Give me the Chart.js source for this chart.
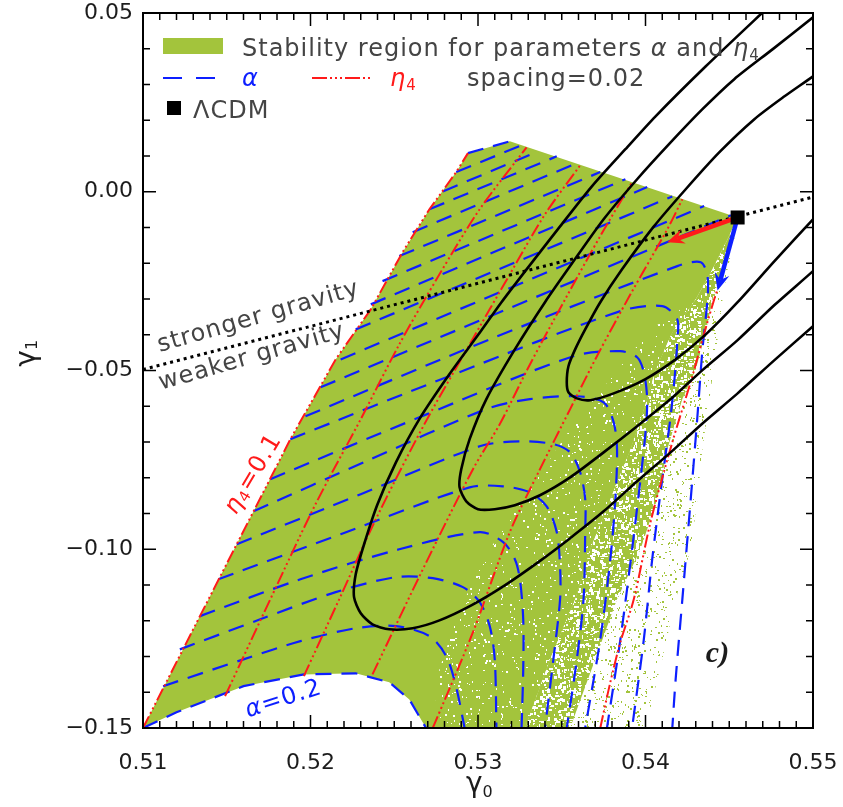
<!DOCTYPE html>
<html lang="en">
<head>
<meta charset="utf-8">
<title>Stability region in the gamma0-gamma1 plane</title>
<script src="https://cdn.jsdelivr.net/npm/chart.js@4.4.1/dist/chart.umd.min.js"></script>
<style>
  html, body { margin: 0; padding: 0; background: #ffffff; }
  #chartBox { width: 843px; height: 807px; }
</style>
</head>
<body>
<div id="chartBox"><canvas id="gammaPlane" width="843" height="807"></canvas></div>
<script>
// Tick labels
var xTicks = [0.51, 0.52, 0.53, 0.54, 0.55];
var yTicks = [-0.15, -0.10, -0.05, 0.00, 0.05];

// LCDM and the directions in which eta4 and alpha grow
var lcdm = [0.5455, -0.0072];
var etaArrowTip = [0.5413, -0.0141];
var alphaArrowTip = [0.5443, -0.0276];

// Divide between stronger and weaker gravity
var gravityDivide = [[0.5100, -0.0497], [0.5500, -0.0015]];

// Left edge of the stability region (the eta4 = 0.1 contour)
var eta01 = [[0.5100,-0.1500],[0.5134,-0.1187],[0.5166,-0.0894],[0.5188,-0.0692],[0.5215,-0.0469],[0.5236,-0.0329],[0.5255,-0.0169],[0.5271,-0.0049],[0.5287,0.0055],[0.5294,0.0108]];
// Top edge, ending at LCDM
var topEdge = [[0.5319,0.0141],[0.5455,-0.0072]];
// Lower edge (the alpha = 0.2 contour)
var alpha02 = [[0.5100,-0.1500],[0.5120,-0.1456],[0.5160,-0.1383],[0.5196,-0.1350],[0.5227,-0.1347],[0.5247,-0.1372],[0.5259,-0.1420],[0.5269,-0.1500]];
// Right-hand edges from LCDM down to the axis: solid, lightly dotted, speckled, sparse points
var edgeSolid = [[0.5455,-0.0072],[0.5449,-0.0133],[0.5440,-0.0217],[0.5430,-0.0301],[0.5416,-0.0393],[0.5406,-0.0497],[0.5401,-0.0580],[0.5391,-0.0720],[0.5379,-0.0860],[0.5367,-0.1000],[0.5358,-0.1140],[0.5343,-0.1308],[0.5328,-0.1500]];
var edgeFaint = [[0.5430,-0.0301],[0.5403,-0.0385],[0.5379,-0.0524],[0.5355,-0.0664],[0.5331,-0.0832],[0.5307,-0.1000],[0.5289,-0.1168],[0.5277,-0.1336],[0.5273,-0.1500]];
var edgeSpeckled = [[0.5455,-0.0072],[0.5452,-0.0133],[0.5446,-0.0217],[0.5440,-0.0301],[0.5436,-0.0393],[0.5430,-0.0497],[0.5422,-0.0580],[0.5413,-0.0720],[0.5407,-0.0860],[0.5397,-0.1000],[0.5383,-0.1140],[0.5370,-0.1308],[0.5355,-0.1500]];
var edgeSparse = [[0.5455,-0.0072],[0.5453,-0.0133],[0.5449,-0.0217],[0.5446,-0.0301],[0.5443,-0.0413],[0.5439,-0.0552],[0.5434,-0.0720],[0.5431,-0.0860],[0.5427,-0.1000],[0.5418,-0.1140],[0.5410,-0.1308],[0.5400,-0.1500]];

// alpha contours, spacing 0.02, from alpha = 0.2 upwards
var alphaContours = [
  alpha02,
  [[0.5112,-0.1383],[0.5160,-0.1308],[0.5194,-0.1257],[0.5227,-0.1221],[0.5251,-0.1215],[0.5271,-0.1243],[0.5281,-0.1299],[0.5287,-0.1386],[0.5292,-0.1500]],
  [[0.5122,-0.1280],[0.5170,-0.1196],[0.5215,-0.1120],[0.5251,-0.1078],[0.5273,-0.1081],[0.5291,-0.1106],[0.5301,-0.1148],[0.5307,-0.1215],[0.5310,-0.1308],[0.5311,-0.1500]],
  [[0.5134,-0.1187],[0.5194,-0.1084],[0.5253,-0.1000],[0.5301,-0.0952],[0.5315,-0.0980],[0.5322,-0.1028],[0.5325,-0.1084],[0.5327,-0.1196],[0.5327,-0.1336],[0.5326,-0.1500]],
  [[0.5145,-0.1084],[0.5218,-0.0958],[0.5295,-0.0827],[0.5315,-0.0824],[0.5331,-0.0841],[0.5341,-0.0880],[0.5347,-0.0952],[0.5349,-0.1048],[0.5349,-0.1140],[0.5345,-0.1308],[0.5340,-0.1500]],
  [[0.5156,-0.0986],[0.5230,-0.0846],[0.5301,-0.0712],[0.5325,-0.0698],[0.5345,-0.0706],[0.5355,-0.0729],[0.5361,-0.0785],[0.5364,-0.0860],[0.5364,-0.0952],[0.5363,-0.1140],[0.5359,-0.1308],[0.5353,-0.1500]],
  [[0.5166,-0.0894],[0.5236,-0.0748],[0.5305,-0.0608],[0.5331,-0.0580],[0.5359,-0.0572],[0.5375,-0.0589],[0.5381,-0.0645],[0.5383,-0.0720],[0.5382,-0.0860],[0.5379,-0.1028],[0.5373,-0.1252],[0.5364,-0.1500]],
  [[0.5176,-0.0804],[0.5265,-0.0631],[0.5357,-0.0460],[0.5385,-0.0446],[0.5395,-0.0463],[0.5399,-0.0505],[0.5401,-0.0580],[0.5400,-0.0673],[0.5397,-0.0804],[0.5392,-0.1000],[0.5385,-0.1252],[0.5377,-0.1500]],
  [[0.5188,-0.0692],[0.5286,-0.0510],[0.5385,-0.0334],[0.5410,-0.0320],[0.5419,-0.0357],[0.5419,-0.0413],[0.5418,-0.0488],[0.5415,-0.0628],[0.5410,-0.0804],[0.5404,-0.1028],[0.5399,-0.1252],[0.5392,-0.1500]],
  [[0.5197,-0.0628],[0.5307,-0.0413],[0.5419,-0.0208],[0.5433,-0.0197],[0.5437,-0.0236],[0.5437,-0.0301],[0.5434,-0.0441],[0.5431,-0.0628],[0.5427,-0.0860],[0.5422,-0.1140],[0.5418,-0.1364],[0.5416,-0.1500]],
  [[0.5206,-0.0547],[0.5451,-0.0066]],
  [[0.5218,-0.0469],[0.5435,-0.0040]],
  [[0.5227,-0.0385],[0.5416,-0.0013]],
  [[0.5236,-0.0315],[0.5401,0.0013]],
  [[0.5243,-0.0250],[0.5388,0.0035]],
  [[0.5253,-0.0180],[0.5373,0.0055]],
  [[0.5261,-0.0113],[0.5359,0.0080]],
  [[0.5271,-0.0049],[0.5347,0.0099]],
  [[0.5279,0.0001],[0.5336,0.0113]],
  [[0.5287,0.0055],[0.5326,0.0130]],
  [[0.5294,0.0108],[0.5319,0.0141]]
];

// eta4 contours, spacing 0.02, from eta4 = 0.1 rightwards
var etaContours = [
  eta01,
  [[0.5149,-0.1411],[0.5176,-0.1140],[0.5203,-0.0874],[0.5230,-0.0636],[0.5253,-0.0427],[0.5277,-0.0231],[0.5301,-0.0049],[0.5329,0.0124]],
  [[0.5196,-0.1355],[0.5218,-0.1131],[0.5239,-0.0916],[0.5268,-0.0650],[0.5295,-0.0427],[0.5319,-0.0231],[0.5340,-0.0063],[0.5361,0.0074]],
  [[0.5237,-0.1350],[0.5265,-0.1076],[0.5297,-0.0776],[0.5313,-0.0650],[0.5331,-0.0483],[0.5352,-0.0301],[0.5373,-0.0124],[0.5392,0.0027]],
  [[0.5273,-0.1500],[0.5297,-0.1232],[0.5319,-0.0952],[0.5337,-0.0776],[0.5355,-0.0608],[0.5371,-0.0460],[0.5391,-0.0287],[0.5413,-0.0105],[0.5422,-0.0021]],
  [[0.5373,-0.1500],[0.5379,-0.1372],[0.5385,-0.1260],[0.5393,-0.1140],[0.5403,-0.0924],[0.5416,-0.0701],[0.5428,-0.0516],[0.5434,-0.0413],[0.5441,-0.0301],[0.5443,-0.0273]]
];

// Confidence contours (inner, middle, outer)
var confInner = [[0.5522,0.0399],[0.5500,0.0323],[0.5483,0.0267],[0.5465,0.0203],[0.5444,0.0110],[0.5424,0.0007],[0.5405,-0.0097],[0.5386,-0.0217],[0.5373,-0.0309],[0.5364,-0.0385],[0.5358,-0.0441],[0.5354,-0.0488],[0.5353,-0.0533],[0.5354,-0.0561],[0.5359,-0.0578],[0.5367,-0.0583],[0.5381,-0.0564],[0.5400,-0.0524],[0.5418,-0.0469],[0.5436,-0.0399],[0.5455,-0.0309],[0.5477,-0.0194],[0.5500,-0.0077],[0.5522,0.0035]];
var confMiddle = [[0.5522,0.0572],[0.5500,0.0488],[0.5476,0.0399],[0.5453,0.0315],[0.5434,0.0231],[0.5415,0.0138],[0.5395,0.0035],[0.5375,-0.0077],[0.5355,-0.0208],[0.5340,-0.0309],[0.5322,-0.0441],[0.5305,-0.0580],[0.5295,-0.0692],[0.5290,-0.0776],[0.5289,-0.0827],[0.5293,-0.0866],[0.5300,-0.0888],[0.5310,-0.0888],[0.5322,-0.0877],[0.5337,-0.0849],[0.5355,-0.0799],[0.5375,-0.0729],[0.5395,-0.0656],[0.5415,-0.0580],[0.5434,-0.0499],[0.5455,-0.0415],[0.5477,-0.0317],[0.5500,-0.0222],[0.5522,-0.0127]];
var confOuter = [[0.5486,0.0572],[0.5470,0.0502],[0.5436,0.0351],[0.5406,0.0211],[0.5388,0.0119],[0.5368,0.0015],[0.5349,-0.0097],[0.5329,-0.0217],[0.5314,-0.0309],[0.5300,-0.0401],[0.5283,-0.0510],[0.5265,-0.0636],[0.5251,-0.0757],[0.5240,-0.0874],[0.5232,-0.0986],[0.5227,-0.1070],[0.5226,-0.1134],[0.5230,-0.1179],[0.5237,-0.1210],[0.5247,-0.1224],[0.5261,-0.1221],[0.5277,-0.1199],[0.5296,-0.1157],[0.5316,-0.1101],[0.5336,-0.1036],[0.5355,-0.0969],[0.5375,-0.0894],[0.5395,-0.0810],[0.5415,-0.0729],[0.5434,-0.0648],[0.5455,-0.0564],[0.5477,-0.0471],[0.5500,-0.0376],[0.5522,-0.0284]];

// Anchors for the in-plot labels
var labelStronger = [0.5169, -0.0351];
var labelWeaker = [0.5165, -0.0463];
var labelEta = [0.5166, -0.0790];
var labelAlpha = [0.5184, -0.1420];
var labelPanel = [0.5443, -0.1294];

var GREEN = '#a3c43c', BLUE = '#0d1fff', RED = '#ff1a1a', INK = '#1c1c1c', GREY = '#444444';
var FAMILY = '"DejaVu Sans", "Liberation Sans", sans-serif';

function pts(a) {
  return a.map(function (p) { return {x: p[0], y: p[1]}; });
}

function rev(a) {
  return a.slice().reverse();
}

// small deterministic hash for the point-cloud textures
function hash(n) {
  var s = Math.sin(n * 12.9898 + 78.233) * 43758.5453;
  return s - Math.floor(s);
}

function speckleTexture(base, dot, count, maxSize, seed) {
  var size = 120;
  var c = document.createElement('canvas');
  c.width = size;
  c.height = size;
  var g = c.getContext('2d');
  if (base) {
    g.fillStyle = base;
    g.fillRect(0, 0, size, size);
  }
  g.fillStyle = dot;
  for (var i = 0; i < count; i++) {
    var x = Math.floor(hash(seed + i * 1.17) * size);
    var y = Math.floor(hash(seed + i * 2.31 + 0.5) * size);
    var w = 1 + Math.floor(hash(seed + i * 3.73) * maxSize);
    var h = 1 + Math.floor(hash(seed + i * 5.19) * maxSize);
    g.fillRect(x, y, w, h);
  }
  return g.createPattern(c, 'repeat');
}

// Region polygons
var solidRegion = eta01.concat(topEdge, edgeSolid.slice(1), rev(alpha02));
var faintRegion = edgeFaint.concat(rev(edgeSolid.slice(3)));
var speckledRegion = edgeSpeckled.concat(rev(edgeSolid));
var sparseRegion = edgeSparse.concat(rev(edgeSpeckled));

function area(data, fillStyle, order) {
  return {
    data: pts(data), showLine: true, fill: 'shape',
    backgroundColor: fillStyle, borderColor: 'rgba(0,0,0,0)', borderWidth: 0,
    pointRadius: 0, tension: 0, order: order
  };
}

var datasets = [
  area(solidRegion, GREEN, 40),
  area(faintRegion, speckleTexture(GREEN, '#ffffff', 260, 2, 11), 39),
  area(speckledRegion, speckleTexture(GREEN, '#ffffff', 1300, 3, 37), 38),
  area(sparseRegion, speckleTexture(null, GREEN, 520, 2, 73), 37)
];

alphaContours.forEach(function (c, i) {
  datasets.push({
    data: pts(c), showLine: true, fill: false, borderColor: BLUE, borderWidth: 2.2,
    borderDash: [16, 10], tension: (i === 0 || c.length < 3) ? 0 : 0.3, pointRadius: 0, order: 20
  });
});

etaContours.forEach(function (c, i) {
  datasets.push({
    data: pts(c), showLine: true, fill: false, borderColor: RED, borderWidth: 2,
    borderDash: [13, 3, 2, 3, 2, 3, 2, 3], tension: i === 0 ? 0 : 0.3, pointRadius: 0, order: 19
  });
});

datasets.push({
  data: pts(gravityDivide), showLine: true, fill: false, borderColor: '#000000', borderWidth: 3,
  borderDash: [3, 4], pointRadius: 0, order: 15
});

[confInner, confMiddle, confOuter].forEach(function (c) {
  datasets.push({
    data: pts(c), showLine: true, fill: false, borderColor: '#000000', borderWidth: 2.6,
    tension: 0.25, pointRadius: 0, order: 10
  });
});

// draws a run of text pieces [text, font, colour, dy] from left to right
function textRun(ctx, x, y, parts) {
  parts.forEach(function (p) {
    ctx.font = p[1];
    ctx.fillStyle = p[2];
    ctx.fillText(p[0], x, y + (p[3] || 0));
    x += ctx.measureText(p[0]).width;
  });
  return x;
}

function runWidth(ctx, parts) {
  var w = 0;
  parts.forEach(function (p) {
    ctx.font = p[1];
    w += ctx.measureText(p[0]).width;
  });
  return w;
}

function arrow(ctx, from, to, colour) {
  var a = Math.atan2(to[1] - from[1], to[0] - from[0]);
  var len = 17, half = 7.5, notch = 11;
  var c = Math.cos(a), s = Math.sin(a);
  ctx.strokeStyle = colour;
  ctx.fillStyle = colour;
  ctx.lineWidth = 4.5;
  ctx.beginPath();
  ctx.moveTo(from[0], from[1]);
  ctx.lineTo(to[0] - notch * c, to[1] - notch * s);
  ctx.stroke();
  ctx.beginPath();
  ctx.moveTo(to[0], to[1]);
  ctx.lineTo(to[0] - len * c + half * s, to[1] - len * s - half * c);
  ctx.lineTo(to[0] - notch * c, to[1] - notch * s);
  ctx.lineTo(to[0] - len * c - half * s, to[1] - len * s + half * c);
  ctx.closePath();
  ctx.fill();
}

var decorations = {
  id: 'decorations',
  afterDatasetsDraw: function (chart) {
    var ctx = chart.ctx, xs = chart.scales.x, ys = chart.scales.y, a = chart.chartArea;
    function px(p) { return [xs.getPixelForValue(p[0]), ys.getPixelForValue(p[1])]; }
    var f24 = '24px ' + FAMILY, i24 = 'italic 24px ' + FAMILY, f15 = '15px ' + FAMILY;

    ctx.save();
    ctx.beginPath();
    ctx.rect(a.left, a.top, a.right - a.left, a.bottom - a.top);
    ctx.clip();

    // arrows and LCDM marker
    var o = px(lcdm);
    arrow(ctx, o, px(etaArrowTip), RED);
    arrow(ctx, o, px(alphaArrowTip), BLUE);
    ctx.fillStyle = '#000000';
    ctx.fillRect(o[0] - 7, o[1] - 7, 14, 14);

    // rotated labels
    ctx.letterSpacing = '1px';
    function rotated(anchor, deg, parts) {
      var q = px(anchor);
      ctx.save();
      ctx.translate(q[0], q[1]);
      ctx.rotate(deg * Math.PI / 180);
      ctx.textBaseline = 'middle';
      textRun(ctx, -runWidth(ctx, parts) / 2, 0, parts);
      ctx.restore();
    }
    rotated(labelStronger, -16, [['stronger gravity', f24, GREY]]);
    rotated(labelWeaker, -16, [['weaker gravity', f24, GREY]]);
    rotated(labelEta, -59, [['\u03b7', i24, RED], ['4', f15, RED, 5], ['=0.1', f24, RED]]);
    rotated(labelAlpha, -18, [['\u03b1', i24, BLUE], ['=0.2', f24, BLUE]]);
    ctx.letterSpacing = '0px';

    var pc = px(labelPanel);
    ctx.font = 'italic bold 30px "Liberation Serif", serif';
    ctx.fillStyle = INK;
    ctx.textAlign = 'center';
    ctx.textBaseline = 'middle';
    ctx.fillText('c)', pc[0], pc[1]);
    ctx.textAlign = 'left';
    ctx.textBaseline = 'alphabetic';

    // legend
    var lx = a.left + 20;
    ctx.fillStyle = GREEN;
    ctx.fillRect(lx, a.top + 25, 60, 16);
    ctx.letterSpacing = '1px';
    textRun(ctx, lx + 79, a.top + 43, [
      ['Stability region for parameters ', f24, GREY], ['\u03b1', i24, GREY], [' and ', f24, GREY],
      ['\u03b7', i24, GREY], ['4', f15, GREY, 4]
    ]);
    textRun(ctx, lx + 79, a.top + 73, [['\u03b1', i24, BLUE]]);
    textRun(ctx, lx + 227, a.top + 73, [['\u03b7', i24, RED], ['4', f15, RED, 4]]);
    textRun(ctx, lx + 304, a.top + 73, [['spacing=0.02', f24, GREY]]);
    textRun(ctx, lx + 30, a.top + 105, [['\u039bCDM', f24, GREY]]);
    ctx.letterSpacing = '0px';
    ctx.lineWidth = 2.2;
    ctx.strokeStyle = BLUE;
    ctx.setLineDash([19, 14]);
    ctx.beginPath(); ctx.moveTo(lx, a.top + 65); ctx.lineTo(lx + 58, a.top + 65); ctx.stroke();
    ctx.strokeStyle = RED;
    ctx.setLineDash([15, 3, 2, 3, 2, 3, 2, 3]);
    ctx.beginPath(); ctx.moveTo(lx + 149, a.top + 65); ctx.lineTo(lx + 210, a.top + 65); ctx.stroke();
    ctx.setLineDash([]);
    ctx.fillStyle = '#000000';
    ctx.fillRect(lx + 4, a.top + 88, 14, 14);
    ctx.restore();

    // frame with inward ticks on all four sides
    ctx.save();
    ctx.strokeStyle = '#000000';
    ctx.lineWidth = 2;
    ctx.strokeRect(a.left, a.top, a.right - a.left, a.bottom - a.top);
    ctx.lineWidth = 1.5;
    ctx.beginPath();
    for (var i = 0; i <= 40; i++) {
      var xv = xs.getPixelForValue(0.51 + i * 0.001);
      var tl = (i % 10 === 0) ? 13 : 7;
      ctx.moveTo(xv, a.bottom); ctx.lineTo(xv, a.bottom - tl);
      ctx.moveTo(xv, a.top); ctx.lineTo(xv, a.top + tl);
    }
    for (var j = 0; j <= 20; j++) {
      var yv = ys.getPixelForValue(-0.15 + j * 0.01);
      var tly = (j % 5 === 0) ? 13 : 7;
      ctx.moveTo(a.left, yv); ctx.lineTo(a.left + tly, yv);
      ctx.moveTo(a.right, yv); ctx.lineTo(a.right - tly, yv);
    }
    ctx.stroke();

    // axis titles
    var cx = (a.left + a.right) / 2;
    textRun(ctx, cx - 12, a.bottom + 64, [['\u03b3', '28px ' + FAMILY, INK], ['0', '16px ' + FAMILY, INK, 5]]);
    ctx.translate(28, ys.getPixelForValue(-0.045));
    ctx.rotate(-Math.PI / 2);
    ctx.textBaseline = 'middle';
    textRun(ctx, -14, 0, [['\u03b3', '28px ' + FAMILY, INK], ['1', '16px ' + FAMILY, INK, 5]]);
    ctx.restore();
  }
};

function fmt(v) {
  if (Math.abs(v) < 1e-9) return '0.00';
  return v.toFixed(2).replace('-', '\u2212');
}

new Chart(document.getElementById('gammaPlane'), {
  type: 'scatter',
  data: { datasets: datasets },
  options: {
    responsive: false,
    animation: false,
    events: [],
    layout: { padding: { left: 0, right: 30, top: 13, bottom: 0 } },
    plugins: { legend: { display: false }, tooltip: { enabled: false } },
    scales: {
      x: {
        type: 'linear', min: 0.51, max: 0.55,
        afterBuildTicks: function (s) { s.ticks = xTicks.map(function (v) { return {value: v}; }); },
        afterFit: function (s) { s.height = 79; s.paddingLeft = 0; s.paddingRight = 0; },
        grid: { display: false, drawTicks: false },
        border: { display: false },
        ticks: { padding: 22, color: INK, font: { family: FAMILY, size: 22 }, maxRotation: 0, autoSkip: false, callback: function (v) { return v.toFixed(2); } }
      },
      y: {
        type: 'linear', min: -0.15, max: 0.05,
        afterBuildTicks: function (s) { s.ticks = yTicks.map(function (v) { return {value: v}; }); },
        afterFit: function (s) { s.width = 143; s.paddingTop = 0; s.paddingBottom = 0; },
        grid: { display: false, drawTicks: false },
        border: { display: false },
        ticks: { padding: 10, color: INK, font: { family: FAMILY, size: 22 }, autoSkip: false, callback: fmt }
      }
    }
  },
  plugins: [decorations]
});
</script>
</body>
</html>
